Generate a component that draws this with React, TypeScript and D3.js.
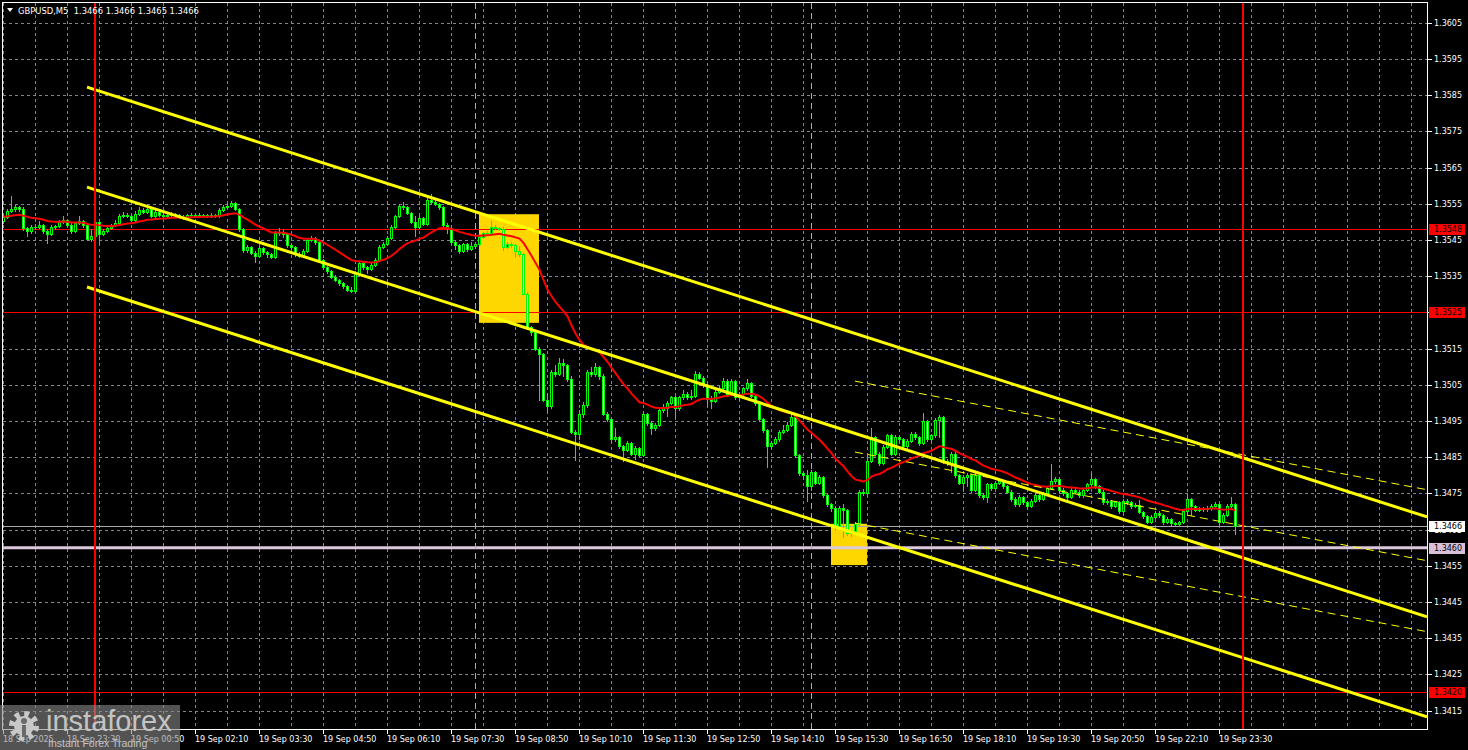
import * as d3 from 'd3';
import React, { FC, useEffect, useRef } from 'react';

// prices are kept in pips above 1.3400
const firstOpen = 150.2;

const closes = [
  151.4, 153.0, 153.5, 154.0, 153.5, 148.2, 147.5, 148.5, 148.7, 149.2,
  147.4, 146.6, 148.5, 148.8, 150.0, 150.6, 149.2, 147.4, 149.6, 150.3,
  149.0, 145.2, 146.2, 150.0, 146.6, 147.5, 148.2, 149.1, 149.6, 151.7,
  152.0, 151.6, 150.6, 152.3, 153.3, 152.8, 153.5, 151.5, 152.6, 152.0,
  151.6, 152.0, 152.2, 151.8, 151.4, 151.3, 151.8, 152.0, 151.6, 152.0,
  151.8, 151.6, 152.0, 151.7, 153.3, 154.0, 154.5, 155.1, 153.5, 148.0,
  142.2, 143.0, 141.5, 140.5, 142.8, 141.6, 141.0, 140.4, 147.0, 147.0,
  146.6, 143.5, 143.0, 141.0, 140.6, 142.0, 145.0, 145.5, 144.5, 139.5,
  137.5, 136.5, 134.8, 134.0, 133.0, 132.3, 131.3, 131.0, 136.0, 138.5,
  137.5, 137.0, 138.0, 139.5, 143.0, 144.0, 145.5, 148.5, 151.5, 154.5,
  154.0, 152.5, 150.0, 148.5, 151.0, 149.5, 156.0, 155.5, 155.0, 154.0,
  149.2, 148.4, 144.5, 143.5, 142.0, 143.8, 142.5, 143.3, 144.0, 145.8,
  146.8, 147.0, 148.6, 148.3, 148.0, 143.1, 144.0, 143.5, 142.0, 141.0,
  130.2, 121.0, 119.5, 115.0, 113.6, 100.8, 99.0, 108.5, 108.0, 111.0,
  110.5, 106.5, 92.0, 91.3, 97.0, 99.5, 108.5, 108.0, 110.0, 107.5,
  97.0, 95.5, 90.0, 90.5, 88.0, 87.0, 89.0, 86.0, 87.5, 85.5,
  97.0, 94.5, 93.0, 94.0, 98.0, 98.5, 100.0, 101.5, 98.5, 101.5,
  102.5, 101.5, 102.0, 108.0, 107.0, 105.0, 101.0, 100.5, 103.0, 104.0,
  106.0, 102.5, 106.0, 101.5, 102.5, 104.0, 105.5, 102.0, 100.0, 95.5,
  92.5, 88.0, 89.0, 90.0, 92.0, 92.5, 94.0, 96.0, 85.5, 80.5,
  80.0, 77.0, 81.0, 78.0, 79.5, 74.5, 72.0, 71.0, 66.0, 71.0,
  70.5, 64.0, 64.5, 66.5, 75.5, 75.0, 84.0, 90.5, 86.0, 83.5,
  87.8, 91.0, 86.0, 90.5, 90.0, 88.0, 89.5, 91.5, 90.5, 88.8,
  95.0, 90.0, 91.0, 95.2, 96.0, 84.0, 83.5, 86.0, 80.0, 78.0,
  79.5, 80.0, 76.0, 80.0, 74.5, 74.0, 77.5, 76.5, 78.0, 78.5,
  77.0, 75.5, 73.5, 72.0, 74.0, 72.5, 71.5, 73.0, 74.5, 73.5,
  75.0, 76.5, 78.5, 79.0, 76.0, 75.0, 74.0, 76.0, 75.5, 74.5,
  76.0, 77.5, 79.0, 77.0, 75.5, 72.5, 73.0, 71.5, 72.5, 70.0,
  73.0, 72.5, 71.5, 71.8, 69.9, 68.8, 67.2, 68.5, 69.5, 69.0,
  67.0, 68.0, 66.8, 66.5, 67.0, 70.0, 73.5, 71.5, 70.5, 70.8,
  70.6, 70.9, 71.5, 72.0, 67.0, 69.0, 71.5, 72.0, 66.0
];

const highs = [
  151.8, 153.6, 157.0, 154.6, 154.5, 154.2, 148.6, 149.0, 149.3, 150.2,
  149.5, 148.0, 149.0, 149.2, 150.5, 151.5, 150.9, 149.6, 150.0, 151.6,
  150.6, 149.4, 148.0, 151.5, 150.3, 148.0, 148.6, 149.5, 150.4, 152.2,
  152.6, 152.4, 151.9, 153.0, 154.0, 153.8, 154.3, 153.8, 153.2, 153.0,
  152.5, 152.4, 152.6, 152.5, 152.2, 151.8, 152.3, 152.4, 152.3, 152.4,
  152.3, 152.2, 152.4, 152.3, 153.8, 154.6, 155.1, 155.8, 155.4, 153.8,
  148.3, 143.6, 143.4, 141.9, 143.4, 143.0, 142.0, 141.3, 147.6, 148.4,
  148.0, 146.9, 143.9, 143.3, 141.6, 142.5, 145.6, 146.0, 145.9, 144.8,
  139.8, 137.9, 136.8, 135.2, 134.3, 133.4, 132.6, 132.0, 136.4, 139.0,
  138.8, 137.9, 138.5, 140.0, 143.5, 144.5, 146.0, 149.0, 152.0, 155.0,
  155.5, 154.3, 152.8, 151.5, 151.5, 151.3, 156.6, 157.8, 156.5, 155.3,
  154.3, 149.6, 148.7, 144.9, 143.9, 144.2, 144.1, 144.5, 144.5, 146.3,
  147.3, 147.5, 150.3, 149.0, 148.6, 148.7, 144.4, 144.3, 143.8, 143.3,
  141.5, 130.5, 121.3, 119.8, 115.4, 113.9, 102.6, 109.0, 110.5, 112.5,
  112.0, 110.8, 107.5, 92.5, 98.0, 100.3, 109.2, 110.0, 111.0, 110.3,
  107.9, 97.4, 95.9, 93.0, 90.9, 88.4, 89.6, 89.3, 88.0, 87.8,
  97.5, 97.3, 94.9, 94.5, 98.6, 99.8, 100.6, 102.0, 101.8, 102.0,
  103.6, 102.9, 103.5, 108.8, 108.5, 107.4, 105.3, 102.0, 103.5, 104.6,
  106.8, 106.5, 106.5, 106.3, 103.0, 104.5, 106.5, 105.8, 102.4, 100.4,
  95.8, 92.8, 89.6, 90.6, 92.6, 94.0, 94.8, 97.0, 96.3, 85.8,
  81.0, 81.5, 81.5, 81.3, 80.0, 79.8, 74.8, 72.4, 71.6, 71.5,
  72.0, 70.8, 65.0, 67.0, 76.0, 76.2, 86.0, 93.0, 90.8, 86.3,
  88.3, 91.5, 91.3, 91.0, 90.9, 90.3, 90.0, 92.0, 91.9, 90.9,
  97.1, 95.4, 91.5, 95.7, 96.6, 96.3, 84.4, 86.5, 86.3, 80.3,
  80.2, 80.5, 80.3, 80.5, 80.3, 75.0, 78.0, 78.0, 78.5, 79.0,
  78.8, 77.4, 75.8, 74.0, 74.5, 74.3, 73.0, 73.5, 75.0, 74.9,
  75.5, 77.0, 83.0, 79.6, 79.3, 76.4, 75.4, 76.5, 76.4, 75.9,
  76.5, 78.0, 80.5, 79.3, 77.4, 75.8, 73.5, 73.3, 73.0, 72.8,
  73.5, 73.4, 72.9, 72.3, 73.1, 70.2, 69.1, 69.0, 70.0, 70.0,
  69.3, 68.5, 68.3, 67.2, 67.5, 70.5, 74.8, 73.8, 71.8, 71.2,
  71.1, 71.4, 72.0, 72.5, 72.3, 69.5, 72.0, 74.0, 72.3
];

const lows = [
  149.8, 151.0, 152.6, 153.0, 153.0, 147.8, 146.0, 147.0, 148.0, 148.4,
  147.0, 144.1, 146.3, 148.0, 148.5, 149.6, 148.8, 147.0, 147.2, 149.3,
  148.7, 145.0, 144.8, 145.8, 144.1, 146.3, 147.2, 147.9, 148.8, 149.3,
  151.3, 151.2, 150.2, 150.3, 152.0, 152.4, 152.5, 151.2, 151.2, 151.6,
  151.2, 151.3, 151.7, 151.5, 151.0, 150.9, 151.0, 151.5, 151.3, 151.3,
  151.5, 151.3, 151.3, 151.4, 151.4, 153.0, 153.7, 154.2, 153.2, 147.6,
  141.6, 141.8, 141.0, 139.0, 140.2, 141.2, 140.4, 139.9, 140.0, 146.4,
  145.8, 143.0, 142.4, 140.6, 140.2, 140.3, 141.6, 144.6, 144.0, 139.0,
  137.0, 136.0, 134.4, 133.6, 132.5, 131.8, 130.8, 130.5, 130.3, 135.7,
  137.0, 136.0, 136.7, 137.7, 139.2, 142.7, 143.7, 145.2, 148.2, 151.2,
  153.6, 152.1, 149.6, 146.0, 148.2, 149.1, 149.2, 155.1, 154.6, 153.6,
  148.8, 147.0, 144.0, 142.5, 141.5, 141.6, 142.0, 142.2, 143.0, 143.7,
  145.5, 146.5, 146.7, 147.9, 147.7, 142.2, 142.8, 143.0, 140.3, 140.6,
  130.0, 120.5, 118.8, 114.5, 100.8, 100.5, 97.4, 98.7, 107.5, 107.7,
  107.3, 106.0, 91.6, 84.2, 90.0, 96.0, 98.8, 107.5, 107.4, 106.5,
  96.6, 95.0, 89.6, 89.5, 87.6, 84.0, 86.7, 85.6, 84.5, 85.0,
  85.2, 94.0, 91.5, 92.6, 93.6, 97.5, 96.5, 99.6, 96.0, 98.1,
  101.1, 101.0, 101.1, 101.6, 106.5, 104.4, 99.0, 98.5, 100.1, 102.6,
  103.6, 102.0, 102.1, 101.0, 101.1, 102.1, 103.6, 101.6, 99.5, 95.0,
  92.0, 82.4, 87.6, 88.6, 89.6, 91.6, 92.1, 93.6, 85.0, 80.0,
  79.0, 73.0, 76.0, 77.6, 77.6, 74.0, 71.6, 70.0, 65.0, 65.6,
  63.0, 63.6, 63.3, 64.0, 66.2, 74.6, 74.7, 83.6, 85.5, 82.8,
  83.0, 87.5, 85.5, 85.7, 89.5, 87.6, 87.6, 89.2, 90.1, 88.4,
  88.5, 89.5, 89.6, 90.7, 90.6, 83.5, 82.8, 81.0, 79.5, 77.5,
  76.0, 77.0, 75.5, 75.7, 74.0, 73.4, 72.5, 76.0, 76.2, 77.6,
  76.6, 75.0, 73.0, 71.5, 71.6, 72.0, 70.8, 71.1, 72.6, 73.0,
  73.1, 74.6, 76.1, 78.0, 75.5, 74.5, 73.4, 73.6, 75.0, 74.0,
  74.1, 75.6, 77.1, 76.5, 75.0, 72.0, 72.1, 71.0, 71.1, 69.6,
  69.7, 72.0, 71.0, 71.2, 69.5, 68.3, 66.8, 66.9, 68.2, 68.6,
  66.6, 66.7, 66.4, 66.0, 66.1, 66.7, 69.7, 69.0, 70.0, 70.1,
  70.2, 70.2, 70.5, 71.1, 66.6, 66.7, 68.7, 71.1, 63.9
];

const maPeriod = 25;

const timeLabels = [
  '18 Sep 2025', '18 Sep 23:30', '19 Sep 00:50', '19 Sep 02:10', '19 Sep 03:30',
  '19 Sep 04:50', '19 Sep 06:10', '19 Sep 07:30', '19 Sep 08:50', '19 Sep 10:10',
  '19 Sep 11:30', '19 Sep 12:50', '19 Sep 14:10', '19 Sep 15:30', '19 Sep 16:50',
  '19 Sep 18:10', '19 Sep 19:30', '19 Sep 20:50', '19 Sep 22:10', '19 Sep 23:30'
];

const priceTicks = [
  1.3605, 1.3595, 1.3585, 1.3575, 1.3565, 1.3555, 1.3545, 1.3535, 1.3525, 1.3515,
  1.3505, 1.3495, 1.3485, 1.3475, 1.3465, 1.3455, 1.3445, 1.3435, 1.3425, 1.3415
];

const redLevels = [1.3548, 1.3525, 1.342];
const supportLevel = 1.346;
const bidPrice = 1.3466;
const dayBars = [23, 310];
const sessionBars = [118, 202];

// [startBar, startPrice, endBar, endPrice]
const mainChannel = [21, 1.35872, 356, 1.34685];
const mainChannelOffsets = [0, -0.00276, -0.00552];
const thinChannel = [213, 1.3506, 356, 1.3476];
const thinChannelOffsets = [0, -0.00196, -0.00392];

// [fromBar, toBar, topPrice, bottomPrice]
const boxes = [
  [119, 134, 1.35521, 1.35221],
  [207, 216, 1.34666, 1.34552]
];

const W = 1468;
const H = 750;
const FONT = '"DejaVu Sans", sans-serif';

const App: FC = () => {
  const ref = useRef<SVGSVGElement>(null);

  useEffect(() => {
    document.body.style.margin = '0';
    document.body.style.background = '#000';

    const svg = d3.select(ref.current);
    svg.selectAll('*').remove();

    const x = d3.scaleLinear().domain([0, 356]).range([3, 1427]);
    const y = d3.scaleLinear().domain([1.3605, 1.3415]).range([22.7, 710.6]);
    const px = (v: number) => 1.34 + v / 10000;
    const cx = (i: number) => Math.round(x(i)) + 0.5;
    const cy = (p: number) => Math.round(y(p)) + 0.5;

    svg.append('rect').attr('width', W).attr('height', H).attr('fill', '#000');

    svg
      .append('defs')
      .append('clipPath')
      .attr('id', 'plot')
      .append('rect')
      .attr('x', 3)
      .attr('y', 3)
      .attr('width', 1424)
      .attr('height', 726);

    const plot = svg.append('g').attr('clip-path', 'url(#plot)');

    // grid
    const grid = plot
      .append('g')
      .attr('stroke', '#7d8794')
      .attr('stroke-width', 1)
      .attr('stroke-dasharray', '3 3');
    priceTicks.forEach((p) => {
      grid.append('line').attr('x1', 3).attr('x2', 1427).attr('y1', cy(p)).attr('y2', cy(p));
    });
    d3.range(0, 357, 8).forEach((b) => {
      grid.append('line').attr('x1', cx(b)).attr('x2', cx(b)).attr('y1', 3).attr('y2', 729);
    });

    // rectangles
    boxes.forEach(([b0, b1, p0, p1]) => {
      plot
        .append('rect')
        .attr('x', x(b0))
        .attr('y', y(p0))
        .attr('width', x(b1) - x(b0))
        .attr('height', y(p1) - y(p0))
        .attr('fill', '#FFD700');
    });

    // horizontal levels
    redLevels.forEach((p) => {
      plot
        .append('line')
        .attr('x1', 3)
        .attr('x2', 1427)
        .attr('y1', cy(p))
        .attr('y2', cy(p))
        .attr('stroke', '#FF0000')
        .attr('stroke-width', 1);
    });
    plot
      .append('line')
      .attr('x1', 3)
      .attr('x2', 1427)
      .attr('y1', y(supportLevel))
      .attr('y2', y(supportLevel))
      .attr('stroke', '#DCC8DC')
      .attr('stroke-width', 3);
    plot
      .append('line')
      .attr('x1', 3)
      .attr('x2', 1427)
      .attr('y1', cy(bidPrice))
      .attr('y2', cy(bidPrice))
      .attr('stroke', '#A8A8A8')
      .attr('stroke-width', 1);

    // session separators
    sessionBars.forEach((b) => {
      plot
        .append('line')
        .attr('x1', cx(b))
        .attr('x2', cx(b))
        .attr('y1', 3)
        .attr('y2', 729)
        .attr('stroke', '#9ACD32')
        .attr('stroke-dasharray', '6 4');
    });

    // candles
    const candles = plot.append('g');
    closes.forEach((c, i) => {
      const o = i === 0 ? firstOpen : closes[i - 1];
      const xc = cx(i);
      candles
        .append('line')
        .attr('x1', xc)
        .attr('x2', xc)
        .attr('y1', Math.round(y(px(highs[i]))))
        .attr('y2', Math.round(y(px(lows[i]))) + 1)
        .attr('stroke', '#00FF00');
      const top = Math.round(y(px(Math.max(o, c))));
      const bottom = Math.round(y(px(Math.min(o, c))));
      if (bottom - top < 1) {
        candles
          .append('line')
          .attr('x1', xc - 1.5)
          .attr('x2', xc + 1.5)
          .attr('y1', top + 0.5)
          .attr('y2', top + 0.5)
          .attr('stroke', '#00FF00');
      } else {
        candles
          .append('rect')
          .attr('x', xc - 1)
          .attr('y', top + 0.5)
          .attr('width', 2)
          .attr('height', bottom - top)
          .attr('fill', c >= o ? '#000' : '#fff')
          .attr('stroke', '#00FF00');
      }
    });

    // exponential moving average of closes
    const k = 2 / (maPeriod + 1);
    const ma: number[] = [];
    closes.forEach((c, i) => {
      ma.push(i === 0 ? c : ma[i - 1] + k * (c - ma[i - 1]));
    });
    plot
      .append('path')
      .datum(ma)
      .attr('d', d3.line<number>().x((_, i) => x(i) + 0.5).y((d) => y(px(d))))
      .attr('fill', 'none')
      .attr('stroke', '#FF0000')
      .attr('stroke-width', 2);

    // channels
    const [s0, sp, e0, ep] = mainChannel;
    mainChannelOffsets.forEach((off) => {
      plot
        .append('line')
        .attr('x1', x(s0))
        .attr('y1', y(sp + off))
        .attr('x2', x(e0))
        .attr('y2', y(ep + off))
        .attr('stroke', '#FFFF00')
        .attr('stroke-width', 3);
    });
    const [t0, tp, t1, tq] = thinChannel;
    thinChannelOffsets.forEach((off) => {
      plot
        .append('line')
        .attr('x1', x(t0))
        .attr('y1', y(tp + off))
        .attr('x2', x(t1))
        .attr('y2', y(tq + off))
        .attr('stroke', '#FFFF00')
        .attr('stroke-width', 1)
        .attr('stroke-dasharray', '8 5');
    });

    // day separators
    dayBars.forEach((b) => {
      plot
        .append('line')
        .attr('x1', x(b))
        .attr('x2', x(b))
        .attr('y1', 3)
        .attr('y2', 729)
        .attr('stroke', '#FF0000')
        .attr('stroke-width', 2);
    });

    // frame
    svg
      .append('rect')
      .attr('x', 2.5)
      .attr('y', 2.5)
      .attr('width', 1425)
      .attr('height', 727)
      .attr('fill', 'none')
      .attr('stroke', '#fff');

    // price axis
    const axis = svg.append('g').attr('font-family', FONT).attr('font-size', 8);
    priceTicks.forEach((p) => {
      axis
        .append('line')
        .attr('x1', 1428)
        .attr('x2', 1432)
        .attr('y1', cy(p))
        .attr('y2', cy(p))
        .attr('stroke', '#fff');
      axis
        .append('text')
        .attr('x', 1434)
        .attr('y', cy(p))
        .attr('dominant-baseline', 'central')
        .attr('fill', '#fff')
        .text(p.toFixed(4));
    });

    const tag = (p: number, bg: string) => {
      axis
        .append('rect')
        .attr('x', 1429)
        .attr('y', Math.round(y(p)) - 5)
        .attr('width', 36)
        .attr('height', 11)
        .attr('fill', bg);
      axis
        .append('text')
        .attr('x', 1434)
        .attr('y', Math.round(y(p)) + 0.5)
        .attr('dominant-baseline', 'central')
        .attr('fill', '#000')
        .text(p.toFixed(4));
    };
    redLevels.forEach((p) => tag(p, '#FF0000'));
    tag(bidPrice, '#fff');
    tag(supportLevel, '#D8BFD8');

    // time axis
    timeLabels.forEach((t, n) => {
      const b = n * 16;
      axis
        .append('line')
        .attr('x1', cx(b))
        .attr('x2', cx(b))
        .attr('y1', 730)
        .attr('y2', 734)
        .attr('stroke', '#fff');
      axis
        .append('text')
        .attr('x', x(b))
        .attr('y', 739)
        .attr('dominant-baseline', 'central')
        .attr('fill', '#fff')
        .text(t);
    });

    // header
    svg.append('path').attr('d', 'M7,8 L13,8 L10,12 Z').attr('fill', '#fff');
    svg
      .append('text')
      .attr('x', 18)
      .attr('y', 10.5)
      .attr('dominant-baseline', 'central')
      .attr('font-family', FONT)
      .attr('font-size', 8.4)
      .attr('fill', '#fff')
      .attr('xml:space', 'preserve')
      .text('GBPUSD,M5  1.3466 1.3466 1.3465 1.3466');

    // watermark
    const wm = svg.append('g');
    wm.append('rect')
      .attr('x', 0)
      .attr('y', 705)
      .attr('width', 180)
      .attr('height', 45)
      .attr('fill', '#8a8a8a')
      .attr('opacity', 0.6);
    wm.append('circle')
      .attr('cx', 24)
      .attr('cy', 726)
      .attr('r', 12)
      .attr('fill', 'none')
      .attr('stroke', '#c8c8c8')
      .attr('stroke-width', 6)
      .attr('stroke-dasharray', '4.7 4.7');
    wm.append('circle')
      .attr('cx', 24)
      .attr('cy', 726)
      .attr('r', 10)
      .attr('fill', '#c8c8c8');
    wm.append('circle').attr('cx', 24).attr('cy', 721).attr('r', 3).attr('fill', '#6a6a6a');
    wm.append('rect').attr('x', 22).attr('y', 725).attr('width', 4).attr('height', 12).attr('fill', '#6a6a6a');
    wm.append('text')
      .attr('x', 46)
      .attr('y', 731)
      .attr('font-family', '"Liberation Sans", sans-serif')
      .attr('font-size', 29)
      .attr('fill', '#c4c4c4')
      .text('instaforex');
    wm.append('text')
      .attr('x', 48)
      .attr('y', 747)
      .attr('font-family', '"Liberation Sans", sans-serif')
      .attr('font-size', 10.5)
      .attr('fill', '#c4c4c4')
      .text('Instant Forex Trading');
  }, []);

  return <svg ref={ref} width={W} height={H} style={{ display: 'block' }} />;
};

export default App;
